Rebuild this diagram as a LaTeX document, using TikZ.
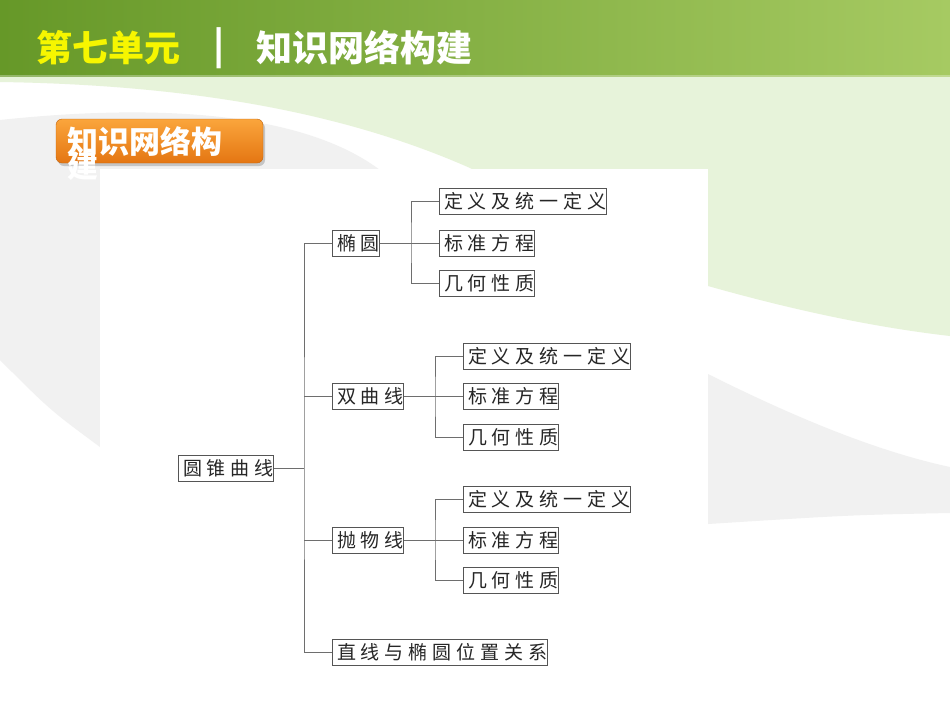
\documentclass[tikz,border=0pt]{standalone}
\usepackage{fontspec}
\usetikzlibrary{arrows}
\newfontfamily\cjk{Noto Sans CJK SC}
\newfontfamily\cjkweit[LetterSpace=26.3]{Noto Sans CJK SC}
\definecolor{bandlinks}{RGB}{102,152,40}
\definecolor{bandrechts}{RGB}{166,202,98}
\definecolor{hellgruen}{RGB}{231,243,218}
\definecolor{hellgrau}{RGB}{241,241,241}
\definecolor{gelb}{RGB}{246,246,0}
\definecolor{orangeoben}{RGB}{250,165,60}
\definecolor{orangeunten}{RGB}{228,118,18}
\definecolor{rahmen}{RGB}{85,85,85}
\newcommand{\sperr}[1]{{\cjkweit #1\kern-5pt}}
\tikzset{
    kasten/.style={
           rectangle,
           draw=rahmen, line width=1pt,
           fill=white,
           inner xsep=4.5pt, inner ysep=0pt,
           minimum height=26pt,
           anchor=west,
           text=black!85,
           font=\fontsize{19}{19}\selectfont},
    ast/.style={draw=rahmen!85, line width=1pt},
    titel/.style={inner sep=0pt, anchor=west,
           font=\cjk\bfseries\fontsize{36}{36}\selectfont},
    etikett/.style={inner sep=0pt, anchor=base west, text=white, align=left,
           font=\cjk\bfseries\fontsize{31}{25}\selectfont}
    }
\begin{document}
\begin{tikzpicture}[x=1pt,y=-1pt]
      \useasboundingbox (0,0) rectangle (950,713);
      % hintergrund
      \fill[white] (0,0) rectangle (950,713);
      \fill[hellgrau] (0,120) .. controls (150,104) and (300,110) .. (380,170)
            .. controls (560,260) and (650,340) .. (708,374)
            .. controls (800,420) and (880,452) .. (950,467) -- (950,513)
            .. controls (850,515) .. (708,524) -- (100,447)
            .. controls (50,410) .. (0,360) -- cycle;
      \fill[hellgruen] (0,77) -- (950,77) -- (950,336)
            .. controls (880,328) and (800,312) .. (708,286)
            .. controls (640,265) and (560,215) .. (470,168)
            .. controls (350,115) and (200,85) .. (0,82) -- cycle;
      \fill[white] (100,169) rectangle (708,713);
      % kopfband
      \shade[left color=bandlinks, right color=bandrechts] (0,0) rectangle (950,76);
      \fill[white, opacity=0.3] (0,75) rectangle (950,77);
      \node[titel, text=gelb] (einheit) at (36,48) {第七单元};
      \node[titel, text=white] (strich) at (213,48) {|};
      \node[titel, text=white] (thema) at (256,48) {知识网络构建};
      % etikett
      \fill[black, opacity=0.18, rounded corners=6pt] (58,122) rectangle (265,166);
      \shade[top color=orangeoben, bottom color=orangeunten, draw=orangeunten!85!black,
            rounded corners=6pt] (56,119) rectangle (263,163);
      \node[etikett] (etikettext) at (67,177) {知识网络构\\[-7pt]建};
      % baum
      \node[kasten] (kegel) at (178,468.5) {\sperr{圆锥曲线}};
      \node[kasten] (ellipse) at (332,243) {\sperr{椭圆}};
      \node[kasten] (ell1) at (439,201) {\sperr{定义及统一定义}};
      \node[kasten] (ell2) at (439,243) {\sperr{标准方程}};
      \node[kasten] (ell3) at (439,283.5) {\sperr{几何性质}};
      \node[kasten] (hyperbel) at (332,396.5) {\sperr{双曲线}};
      \node[kasten] (hyp1) at (463,356) {\sperr{定义及统一定义}};
      \node[kasten] (hyp2) at (463,396.5) {\sperr{标准方程}};
      \node[kasten] (hyp3) at (463,437.5) {\sperr{几何性质}};
      \node[kasten] (parabel) at (332,540) {\sperr{抛物线}};
      \node[kasten] (par1) at (463,499.5) {\sperr{定义及统一定义}};
      \node[kasten] (par2) at (463,540) {\sperr{标准方程}};
      \node[kasten] (par3) at (463,580.5) {\sperr{几何性质}};
      \node[kasten] (gerade) at (332,652.5) {\sperr{直线与椭圆位置关系}};
      \coordinate (stamm) at (304,468.5);
      \coordinate (ellgabel) at (411,243);
      \coordinate (hypgabel) at (435,396.5);
      \coordinate (pargabel) at (435,540);
      \draw[ast] (kegel.east) -- (stamm);
      \draw[ast] (ellipse.west) -| (stamm) |- (gerade.west);
      \draw[ast] (stamm |- hyperbel.west) -- (hyperbel.west);
      \draw[ast] (stamm |- parabel.west) -- (parabel.west);
      \draw[ast] (ellipse.east) -- (ell2.west);
      \draw[ast] (ell1.west) -| (ellgabel) |- (ell3.west);
      \draw[ast] (hyperbel.east) -- (hyp2.west);
      \draw[ast] (hyp1.west) -| (hypgabel) |- (hyp3.west);
      \draw[ast] (parabel.east) -- (par2.west);
      \draw[ast] (par1.west) -| (pargabel) |- (par3.west);
\end{tikzpicture}
\end{document}
